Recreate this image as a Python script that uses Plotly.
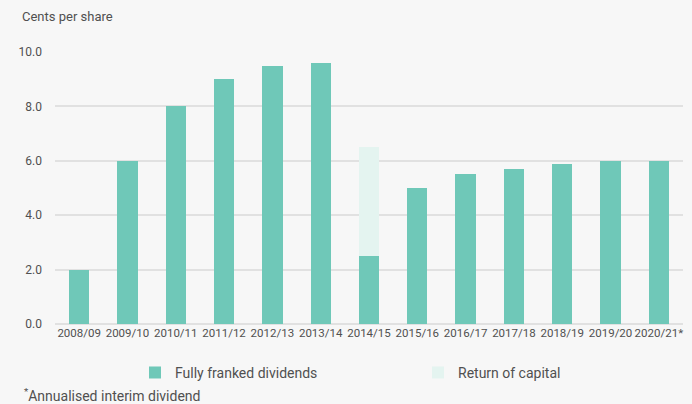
import plotly.graph_objects as go

years = ["2008/09", "2009/10", "2010/11", "2011/12", "2012/13", "2013/14", "2014/15",
         "2015/16", "2016/17", "2017/18", "2018/19", "2019/20", "2020/21*"]
dividends = [2.0, 6.0, 8.0, 9.0, 9.5, 9.6, 2.5, 5.0, 5.5, 5.7, 5.9, 6.0, 6.0]
return_of_capital = [0, 0, 0, 0, 0, 0, 4.0, 0, 0, 0, 0, 0, 0]

text_color = "#505050"
bg = "#f7f7f7"
font = "Roboto"

fig = go.Figure()

fig.add_trace(go.Bar(
    x=years, y=dividends, name="Fully franked dividends", legend="legend",
    marker=dict(color="#6fc8b8", line=dict(width=0)),
))
fig.add_trace(go.Bar(
    x=years, y=return_of_capital, name="Return of capital", legend="legend2",
    marker=dict(color="#e4f4f0", line=dict(width=0)),
))

legend_style = dict(orientation="h", xref="container", yref="container", xanchor="left",
                    yanchor="middle", y=0.077, font=dict(size=14, color=text_color),
                    itemwidth=30, bgcolor="rgba(0,0,0,0)")

fig.update_layout(
    width=692, height=404,
    barmode="stack", bargap=0.58,
    paper_bgcolor=bg, plot_bgcolor=bg,
    margin=dict(l=55, r=9, t=52, b=80, autoexpand=False),
    font=dict(family=font, size=12, color=text_color),
    xaxis=dict(showgrid=False, showline=False, ticks="", tickfont=dict(size=11.5),
               tickangle=0, automargin=False),
    yaxis=dict(range=[0, 10], tickvals=[0, 2, 4, 6, 8, 10],
               ticktext=["0.0", "2.0", "4.0", "6.0", "8.0", "10.0"],
               gridcolor="#e1e1e1", gridwidth=1.5, zeroline=True, zerolinecolor="#e1e1e1",
               zerolinewidth=1.5, ticks="", ticklabelstandoff=12, tickfont=dict(size=12),
               automargin=False),
    legend=dict(legend_style, x=135 / 692),
    legend2=dict(legend_style, x=418 / 692),
    showlegend=True,
)

fig.add_annotation(text="Cents per share", xref="paper", yref="paper",
                   x=-0.056, y=1.13, xanchor="left", yanchor="middle", showarrow=False,
                   font=dict(size=13, color=text_color))
fig.add_annotation(text="<sup>*</sup>Annualised interim dividend", xref="paper", yref="paper",
                   x=-0.053, y=-0.26, xanchor="left", yanchor="middle", showarrow=False,
                   font=dict(size=14, color=text_color))

fig.write_html("out.html", config={"displayModeBar": False},
               post_script="document.body.style.margin='0';"
                           "document.body.style.background='%s';" % bg)
